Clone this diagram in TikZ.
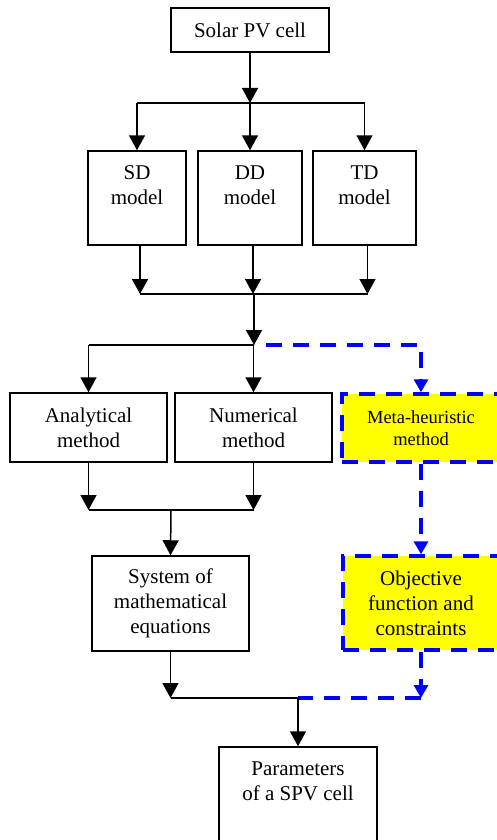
\documentclass[tikz,border=0pt]{standalone}
\usepackage{fontspec}
\setmainfont{Liberation Serif}
\usetikzlibrary{arrows.meta,positioning,calc}
\definecolor{dashblue}{HTML}{0000FF}
\definecolor{hiyellow}{HTML}{FFFF00}

\begin{document}
\begin{tikzpicture}[
  x=1pt, y=-1pt,
  font=\fontsize{21}{25}\selectfont,
  box/.style={draw, line width=1.5pt, align=center, inner sep=0pt},
  metabox/.style={box, draw=dashblue, line width=3.4pt, dash pattern=on 16pt off 11pt, fill=hiyellow},
  link/.style={line width=1.5pt},
  arr/.style={link, -{Triangle[length=15pt,width=16pt]}},
  blink/.style={draw=dashblue, line width=3.4pt, dash pattern=on 16pt off 11pt},
  barr/.style={blink, -{Triangle[length=13pt,width=14pt]}},
]
\useasboundingbox (0,0) rectangle (497,840);
% cell and its three models
\node[box, minimum width=158pt, minimum height=44pt] (solar) at (250,30) {Solar PV cell};
\node[box, minimum width=98pt, minimum height=94pt] (sd) at (137,198) {SD\\model\\\mbox{}};
\node[box, minimum width=104pt, minimum height=94pt] (dd) at (250,198) {DD\\model\\\mbox{}};
\node[box, minimum width=103pt, minimum height=94pt] (td) at (364.5,198) {TD\\model\\\mbox{}};
% extraction methods
\node[box, minimum width=157pt, minimum height=69pt] (ana) at (88.5,427.5) {Analytical\\method};
\node[box, minimum width=157pt, minimum height=69pt] (num) at (253.5,427.5) {Numerical\\method};
\node[metabox, minimum width=158pt, minimum height=68pt, font=\fontsize{18.5}{22}\selectfont] (meta) at (421,428) {Meta-heuristic\\method};
\node[box, minimum width=157pt, minimum height=95pt] (sys) at (170.5,603.5) {System of\\mathematical\\equations};
\node[metabox, minimum width=156pt, minimum height=94pt] (obj) at (421,603) {Objective\\function and\\constraints};
\node[box, minimum width=158pt, minimum height=94pt] (par) at (298,794) {Parameters\\of a SPV cell\\\mbox{}};
% junctions
\coordinate (split) at (250,103);
\coordinate (merge) at (254,294);
\coordinate (fork) at (254,345);
\coordinate (join) at (171,510);
\coordinate (final) at (298,698);
% cell -> models
\draw[arr] (solar) -- (split);
\draw[link] (sd.north |- split) -- (td.north |- split);
\foreach \m in {sd,dd,td} { \draw[arr] (\m.north |- split) -- (\m.north); }
% models -> methods
\foreach \m in {sd,dd,td} { \draw[arr] ([xshift=3pt]\m.south) -- ([xshift=3pt]\m.south |- merge); }
\draw[link] ([xshift=3pt]sd.south |- merge) -- ([xshift=3pt]td.south |- merge);
\draw[arr] (merge) -- (fork);
\draw[link] (ana.north |- fork) -- (fork);
\draw[arr] (ana.north |- fork) -- (ana.north);
\draw[arr] (num.north |- fork) -- (num.north);
\draw[barr] ([xshift=12pt]fork) -- (meta.north |- fork) -- (meta.north);
% methods -> equations / objective
\draw[arr] (ana.south) -- (ana.south |- join);
\draw[arr] (num.south) -- (num.south |- join);
\draw[link] (ana.south |- join) -- (num.south |- join);
\draw[arr] (join) -- (sys.north);
\draw[barr] (meta.south) -- (obj.north);
% both -> parameters
\draw[arr] (sys.south) -- (sys.south |- final);
\draw[link] (sys.south |- final) -- (final);
\draw[barr] (obj.south) -- (obj.south |- final);
\draw[blink] (obj.south |- final) -- (final);
\draw[arr] (final) -- (par.north);
\end{tikzpicture}
\end{document}
